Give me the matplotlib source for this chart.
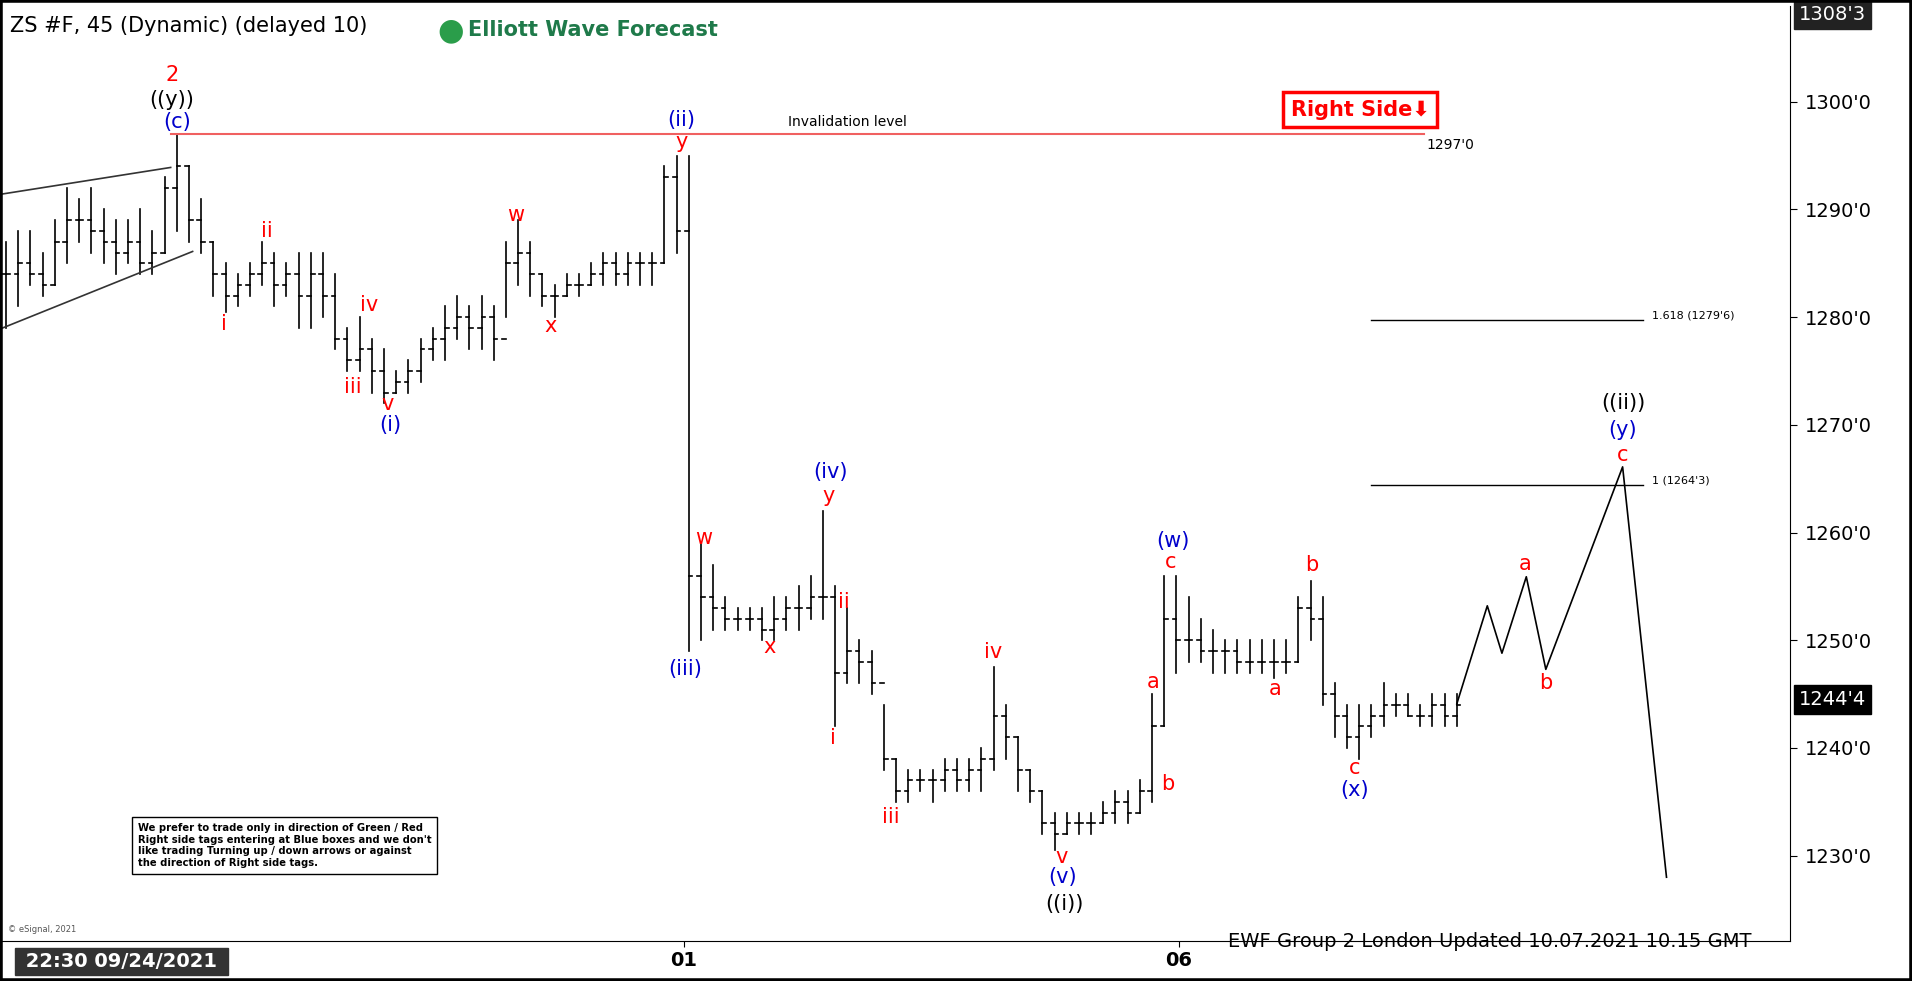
import matplotlib
matplotlib.use("Agg")
import matplotlib.pyplot as plt
from matplotlib.patches import Rectangle

highs = [1287,1288,1288,1286,1289,1292,1291,1292,1290,1289,1289,1290,1288,1293,1297,1294,1291,1287,1285,1284,
         1285,1287,1286,1285,1286,1286,1286,1284,1279,1280,1278,1277,1275,1276,1278,1279,1281,1282,1281,1282,
         1281,1287,1289,1287,1284,1283,1284,1284,1285,1286,1286,1286,1286,1286,1294,1295,1295,1259,1257,1254,
         1253,1253,1253,1254,1254,1255,1256,1262,1255,1253,1250,1249,1244,1239,1238,1238,1238,1239,1239,1239,
         1240,1247.5,1244,1241,1238,1236,1234,1234,1234,1234,1235,1236,1236,1237,1245,1256,1256,1254,1252,1251,
         1250,1250,1250,1250,1250,1250,1254,1255.5,1254,1246,1244,1244,1244,1246,1245,1245,1244,1245,1245,1245]
lows = [1279,1281,1283,1282,1283,1285,1287,1286,1285,1284,1285,1284,1284,1286,1288,1287,1286,1282,1280.5,1281,
        1282,1283,1281,1282,1279,1279,1280,1277,1275,1275,1273,1272,1273,1273,1274,1276,1276,1278,1277,1277,
        1276,1280,1283,1282,1281,1280,1282,1282,1283,1283,1283,1283,1283,1283,1285,1286,1249,1250,1251,1251,
        1251,1251,1250,1250,1251,1251,1252,1252,1242,1246,1246,1245,1238,1235,1235,1236,1235,1236,1236,1236,
        1236,1238,1239,1236,1235,1232,1230.5,1232,1232,1232,1233,1233,1233,1234,1235,1242,1247,1248,1248,1247,
        1247,1247,1247,1247,1246.5,1247,1248,1250,1244,1241,1240,1239,1241,1242,1243,1243,1242,1242,1242,1242]
closes = [1284,1285,1284,1283,1287,1289,1289,1288,1287,1286,1287,1285,1286,1292,1294,1289,1287,1284,1282,1283,
          1284,1285,1283,1284,1282,1284,1282,1278,1276,1277,1275,1273,1274,1275,1277,1278,1279,1280,1279,1280,
          1278,1285,1286,1284,1282,1282,1283,1283,1284,1285,1284,1285,1285,1285,1293,1288,1256,1254,1253,1252,
          1252,1252,1251,1252,1253,1253,1254,1254,1247,1249,1248,1246,1239,1236,1237,1237,1237,1238,1237,1238,
          1239,1243,1241,1238,1236,1233,1232,1233,1233,1233,1234,1235,1234,1236,1242,1252,1250,1250,1249,1249,
          1249,1248,1248,1248,1248,1248,1253,1252,1245,1243,1241,1242,1243,1244,1244,1243,1243,1244,1243,1244]

proj_x = [119, 121.5, 122.7, 124.7, 126.3, 132.6, 136.2]
proj_p = [1244.1, 1253.2, 1248.8, 1255.9, 1247.3, 1266.1, 1228.0]

labels = [("2",13.6,1302.5,"red"),("((y))",13.6,1300.2,"black"),("(c)",14.0,1298.1,"blue"),
          ("i",17.9,1279.4,"red"),("ii",21.4,1288.0,"red"),("iii",28.4,1273.5,"red"),("iv",29.8,1281.1,"red"),
          ("v",31.3,1271.9,"red"),("(i)",31.5,1270.0,"blue"),("w",41.8,1289.5,"red"),("x",44.7,1279.2,"red"),
          ("(ii)",55.4,1298.3,"blue"),("y",55.4,1296.3,"red"),("(iii)",55.7,1247.3,"blue"),("w",57.2,1259.5,"red"),
          ("x",62.6,1249.4,"red"),("(iv)",67.6,1265.6,"blue"),("y",67.5,1263.4,"red"),("ii",68.7,1253.6,"red"),
          ("i",67.8,1240.9,"red"),("iii",72.6,1233.6,"red"),("iv",81.0,1248.9,"red"),("v",86.6,1229.9,"red"),
          ("(v)",86.7,1228.0,"blue"),("((i))",86.8,1225.5,"black"),("a",94.1,1246.1,"red"),("b",95.3,1236.7,"red"),
          ("c",95.5,1257.3,"red"),("(w)",95.7,1259.2,"blue"),("a",104.1,1245.5,"red"),("b",107.1,1257.0,"red"),
          ("c",110.6,1238.1,"red"),("(x)",110.6,1236.1,"blue"),("a",124.6,1257.1,"red"),("b",126.3,1246.0,"red"),
          ("c",132.6,1267.2,"red"),("(y)",132.6,1269.5,"blue"),("((ii))",132.7,1272.0,"black")]

yticks = [1230,1240,1250,1260,1270,1280,1290,1300]

fig = plt.figure(figsize=(19.12,9.81), dpi=100)
fig.patch.set_facecolor("white")
ax = fig.add_axes([0.0, 0.041, 0.936, 0.953])
ax.set_xlim(-0.5, 146.3)
ax.set_ylim(1222.1, 1308.9)

for i,(h,l,c) in enumerate(zip(highs,lows,closes)):
    o = closes[i-1] if i > 0 else c
    ax.plot([i,i],[l,h],color="black",lw=1.2)
    ax.plot([i-0.3,i],[o,o],color="black",lw=1.2)
    ax.plot([i,i+0.3],[c,c],color="black",lw=1.2)

ax.plot([-0.5,13.5],[1291.4,1293.9],color="#333",lw=1.2)
ax.plot([-0.5,15.3],[1278.9,1286.1],color="#333",lw=1.2)

ax.plot([13.5,116.3],[1297,1297],color="#f06060",lw=1.5)
ax.text(69,1298.1,"Invalidation level",fontsize=10,ha="center",va="center")
ax.text(116.5,1296,"1297'0",fontsize=10,ha="left",va="center")

ax.plot([112,134.3],[1279.75,1279.75],color="black",lw=1)
ax.text(135,1280.2,"1.618 (1279'6)",fontsize=8,va="center")
ax.plot([112,134.3],[1264.375,1264.375],color="black",lw=1)
ax.text(135,1264.8,"1 (1264'3)",fontsize=8,va="center")

ax.plot(proj_x, proj_p, color="black", lw=1.2)

for t,x,p,c in labels:
    ax.text(x,p,t,color=("#0000cc" if c=="blue" else c),fontsize=15,ha="center",va="center")

ax.yaxis.tick_right()
ax.set_yticks(yticks)
ax.set_yticklabels([f"{v}'0" for v in yticks], fontsize=14)
ax.tick_params(axis="y", length=5, pad=6)
ax.set_xticks([55.6, 96.2])
ax.set_xticklabels(["01","06"], fontsize=14, fontweight="bold")
ax.tick_params(axis="x", length=4)
for s in ["top","left"]:
    ax.spines[s].set_visible(False)

ax.text(1.005, 1244.5, "1244'4", transform=ax.get_yaxis_transform(), fontsize=14, color="white",
        va="center", ha="left", bbox=dict(boxstyle="square,pad=0.25", fc="black", ec="black"))
ax.text(1.005, 1308.1, "1308'3", transform=ax.get_yaxis_transform(), fontsize=14, color="white",
        va="center", ha="left", bbox=dict(boxstyle="square,pad=0.25", fc="#222", ec="#222"))

fig.text(0.005, 0.973, "ZS #F, 45 (Dynamic) (delayed 10)", fontsize=15, va="center")
fig.text(0.229, 0.969, "●", fontsize=22, color="#2a9d4a", va="center")
fig.text(0.245, 0.969, "Elliott Wave Forecast", fontsize=15, color="#1f7a4a", fontweight="bold", va="center")

ax.text(0.760, 0.889, "Right Side\u2b07", transform=ax.transAxes, fontsize=15, color="red", fontweight="bold",
        ha="center", va="center", bbox=dict(boxstyle="square,pad=0.35", fc="white", ec="red", lw=2.5))

fig.text(0.072, 0.138, "We prefer to trade only in direction of Green / Red\nRight side tags entering at Blue boxes and we don't\n"
         "like trading Turning up / down arrows or against\nthe direction of Right side tags.",
         fontsize=7.2, fontweight="bold", va="center", ha="left",
         bbox=dict(boxstyle="square,pad=0.6", fc="white", ec="black"))
fig.text(0.004, 0.05, "© eSignal, 2021", fontsize=6, color="#555")

fig.text(0.01, 0.02, " 22:30 09/24/2021 ", fontsize=14, color="white", fontweight="bold", va="center",
         bbox=dict(boxstyle="square,pad=0.2", fc="#333", ec="#333"))
fig.text(0.779, 0.04, "EWF Group 2 London Updated 10.07.2021 10.15 GMT", fontsize=14, ha="center", va="center")

fig.add_artist(Rectangle((0,0),1,1,transform=fig.transFigure,fill=False,ec="black",lw=4))
fig.savefig("out.png", dpi=100)
